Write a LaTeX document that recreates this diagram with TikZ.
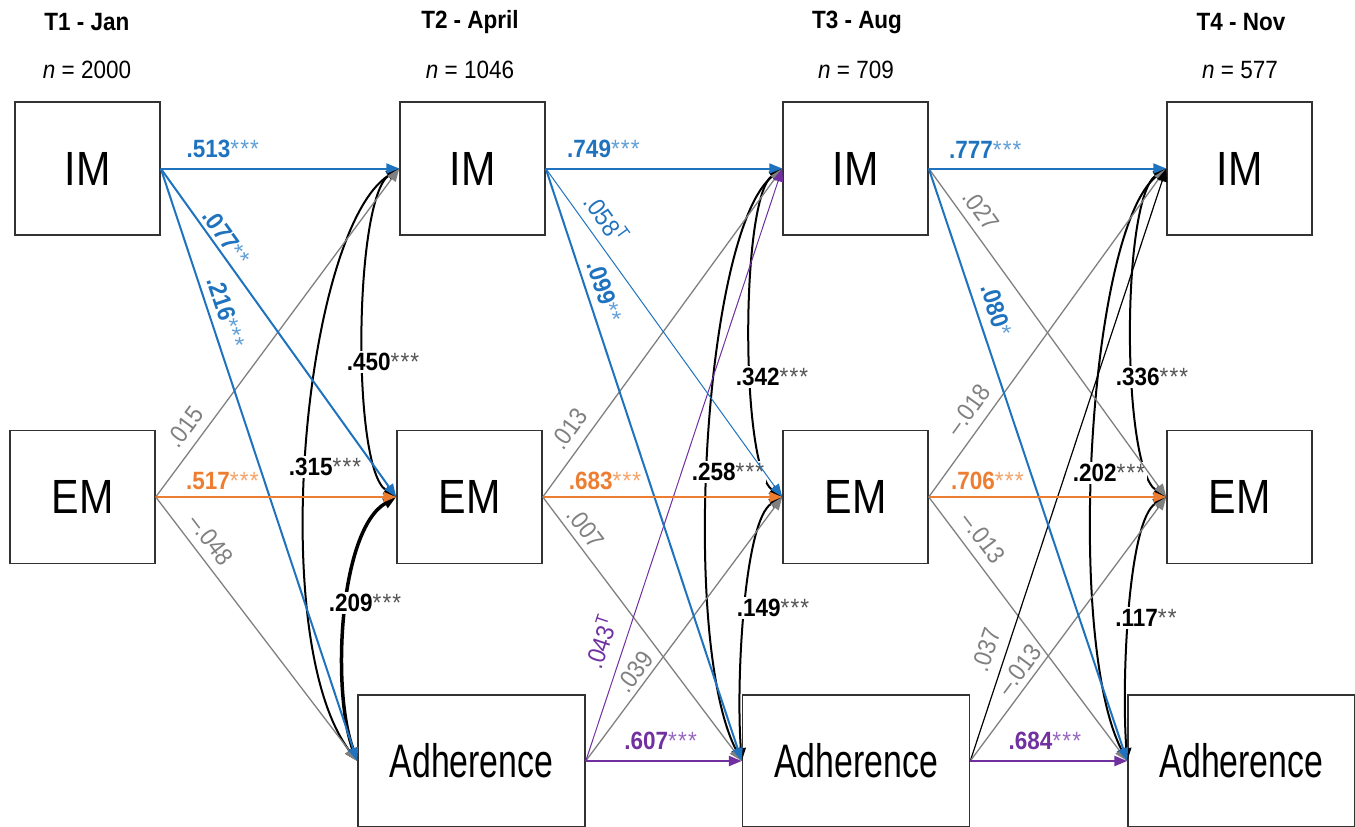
\documentclass[tikz,border=0pt]{standalone}
\usepackage{fontspec}
\setmainfont{Liberation Sans}[FakeStretch=0.9]
\newfontfamily\boxfont{Liberation Sans}[FakeStretch=0.72]
\newfontfamily\boxfontw{Liberation Sans}[FakeStretch=0.86]
\usetikzlibrary{arrows.meta}
\definecolor{cblue}{RGB}{31,115,190}
\definecolor{cblueL}{RGB}{95,158,215}
\definecolor{corange}{RGB}{237,125,49}
\definecolor{corangeL}{RGB}{244,162,105}
\definecolor{cpurple}{RGB}{112,48,160}
\definecolor{cpurpleL}{RGB}{150,105,192}
\definecolor{cgray}{RGB}{128,128,128}
\definecolor{cstar}{RGB}{85,85,85}
\definecolor{cbox}{RGB}{50,50,50}
\newcommand{\mycoef}[3]{{\bfseries #1}{\color{#3}#2}}
\newcommand{\stt}{*\kern1.2pt*\kern1.2pt*}
\newcommand{\stw}{*\kern1.2pt*}
\begin{document}
\begin{tikzpicture}[x=1pt,y=-1pt,
  box/.style={draw=cbox, line width=1.5pt, minimum width=145pt, minimum height=133pt, inner sep=0pt, fill=white, font=\boxfontw\fontsize{48}{50}\selectfont},
  wbox/.style={box, minimum width=227pt, minimum height=132pt, font=\boxfont\fontsize{47}{50}\selectfont},
  hdr/.style={font=\bfseries\fontsize{25}{28}\selectfont},
  nlab/.style={font=\fontsize{25}{28}\selectfont},
  tipstyle/.style={-{Triangle[length=13pt,width=10pt]}},
  pblue/.style={draw=cblue, line width=2pt, tipstyle},
  pbluethin/.style={draw=cblue, line width=1pt, tipstyle},
  porange/.style={draw=corange, line width=2.5pt, tipstyle},
  ppurple/.style={draw=cpurple, line width=2.5pt, tipstyle},
  ppurplethin/.style={draw=cpurple, line width=1pt, tipstyle},
  pgray/.style={draw=cgray, line width=1.3pt, tipstyle},
  pblack/.style={draw=black, line width=1.2pt, tipstyle},
  cov/.style={draw=black, line width=2pt, {Triangle[length=13pt,width=10pt]}-{Triangle[length=13pt,width=10pt]}},
  covthick/.style={cov, line width=3.5pt},
  lbl/.style={font=\fontsize{25}{28}\selectfont, inner sep=1pt},
  glbl/.style={lbl, text=cgray},
  clbl/.style={lbl, fill=white, inner sep=2pt}
]
\useasboundingbox (0,0) rectangle (1355,827);

% headers
\node[hdr] (h1) at (87,22) {T1 - Jan};
\node[hdr] (h2) at (470,22) {T2 - April};
\node[hdr] (h3) at (857,22) {T3 - Aug};
\node[hdr] (h4) at (1241,22) {T4 - Nov};
\node[nlab] (n1) at (87,70) {\textit{n} = 2000};
\node[nlab] (n2) at (470,70) {\textit{n} = 1046};
\node[nlab] (n3) at (856,70) {\textit{n} = 709};
\node[nlab] (n4) at (1240,70) {\textit{n} = 577};

% boxes
\node[box] (IM1) at (87.5,168.5) {IM};
\node[box] (EM1) at (82.5,497) {EM};
\node[box] (IM2) at (472.5,168.5) {IM};
\node[box] (EM2) at (469.5,497) {EM};
\node[wbox] (A2) at (471.5,761) {Adherence};
\node[box] (IM3) at (855.5,168.5) {IM};
\node[box] (EM3) at (855.5,497) {EM};
\node[wbox] (A3) at (856,761) {Adherence};
\node[box] (IM4) at (1239.5,168.5) {IM};
\node[box] (EM4) at (1239.5,497) {EM};
\node[wbox] (A4) at (1241.5,761) {Adherence};

% covariance curves
\draw[cov] (IM2.west) .. controls +(-45,30) and +(-45,-30) .. (EM2.west);
\draw[cov] (IM2.west) .. controls +(-95,61.5) and +(-92,-121) .. (A2.west);
\draw[covthick] (EM2.west) .. controls +(-57,33) and +(-26,-71) .. (A2.west);
\draw[cov] (IM3.west) .. controls +(-42,30) and +(-42,-30) .. (EM3.west);
\draw[cov] (IM3.west) .. controls +(-78,61.5) and +(-62,-121) .. (A3.west);
\draw[cov] (EM3.west) .. controls +(-38,23) and +(-6,-81) .. (A3.west);
\draw[cov] (IM4.west) .. controls +(-45,30) and +(-45,-30) .. (EM4.west);
\draw[cov] (IM4.west) .. controls +(-78,61.5) and +(-62,-121) .. (A4.west);
\draw[cov] (EM4.west) .. controls +(-38,23) and +(-6,-81) .. (A4.west);

\node[clbl] (c450) at (383,362) {\mycoef{.450}{\stt}{cstar}};
\node[clbl] (c315) at (325,467) {\mycoef{.315}{\stt}{cstar}};
\node[clbl] (c209) at (365,603) {\mycoef{.209}{\stt}{cstar}};
\node[clbl] (c342) at (772,377) {\mycoef{.342}{\stt}{cstar}};
\node[clbl] (c258) at (728,472) {\mycoef{.258}{\stt}{cstar}};
\node[clbl] (c149) at (773,608) {\mycoef{.149}{\stt}{cstar}};
\node[clbl] (c336) at (1152,377) {\mycoef{.336}{\stt}{cstar}};
\node[clbl] (c202) at (1109,473) {\mycoef{.202}{\stt}{cstar}};
\node[clbl] (c117) at (1146,618) {\mycoef{.117}{\stw}{cstar}};

% T1 -> T2
\draw[pgray] (EM1.east) -- node[glbl, sloped, pos=0.181, above=8pt]{.015} (IM2.west);
\draw[pgray] (EM1.east) -- node[glbl, sloped, pos=0.203, above=7.5pt]{–.048} (A2.west);
\draw[pblue] (IM1.east) -- node[lbl, pos=0.26, above=8.5pt, text=cblue]{\mycoef{.513}{\stt}{cblueL}} (IM2.west);
\draw[pblue] (IM1.east) -- node[lbl, sloped, pos=0.233, above=2.5pt, text=cblue]{\mycoef{.077}{\stw}{cblueL}} (EM2.west);
\draw[pblue] (IM1.east) -- node[lbl, sloped, pos=0.252, above=6pt, text=cblue]{\mycoef{.216}{\stt}{cblueL}} (A2.west);
\draw[porange] (EM1.east) -- node[lbl, pos=0.277, above=5pt, text=corange]{\mycoef{.517}{\stt}{corangeL}} (EM2.west);

% T2 -> T3
\draw[pgray] (EM2.east) -- node[glbl, sloped, pos=0.174, above=8.5pt]{.013} (IM3.west);
\draw[pgray] (EM2.east) -- node[glbl, sloped, pos=0.153, above=5.5pt]{.007} (A3.west);
\draw[pgray] (A2.east) -- node[glbl, sloped, pos=0.307, above=3.5pt]{.039} (EM3.west);
\draw[ppurplethin] (A2.east) -- node[lbl, sloped, pos=0.188, above=12pt, text=cpurple]{.043\textsuperscript{T}} (IM3.west);
\draw[pblue] (IM2.east) -- node[lbl, pos=0.244, above=8.5pt, text=cblue]{\mycoef{.749}{\stt}{cblueL}} (IM3.west);
\draw[pbluethin] (IM2.east) -- node[lbl, sloped, pos=0.188, above=8pt, text=cblue]{.058\textsuperscript{T}} (EM3.west);
\draw[pblue] (IM2.east) -- node[lbl, sloped, pos=0.217, above=6pt, text=cblue]{\mycoef{.099}{\stw}{cblueL}} (A3.west);
\draw[porange] (EM2.east) -- node[lbl, pos=0.26, above=5pt, text=corange]{\mycoef{.683}{\stt}{corangeL}} (EM3.west);
\draw[ppurple] (A2.east) -- node[lbl, pos=0.48, above=9pt, text=cpurple]{\mycoef{.607}{\stt}{cpurpleL}} (A3.west);

% T3 -> T4
\draw[pgray] (IM3.east) -- node[glbl, sloped, pos=0.158, above=7.5pt]{.027} (EM4.west);
\draw[pgray] (EM3.east) -- node[glbl, sloped, pos=0.231, above=8.5pt]{–.018} (IM4.west);
\draw[pgray] (EM3.east) -- node[glbl, sloped, pos=0.197, above=8.5pt]{–.013} (A4.west);
\draw[pblack] (A3.east) -- node[glbl, sloped, pos=0.177, above=9pt]{.037} (IM4.west);
\draw[pgray] (A3.east) -- node[glbl, sloped, pos=0.312, above=4.5pt]{–.013} (EM4.west);
\draw[pblue] (IM3.east) -- node[lbl, pos=0.238, above=8.5pt, text=cblue]{\mycoef{.777}{\stt}{cblueL}} (IM4.west);
\draw[pblue] (IM3.east) -- node[lbl, sloped, pos=0.249, above=8.5pt, text=cblue]{\mycoef{.080}{*}{cblueL}} (A4.west);
\draw[porange] (EM3.east) -- node[lbl, pos=0.247, above=5pt, text=corange]{\mycoef{.706}{\stt}{corangeL}} (EM4.west);
\draw[ppurple] (A3.east) -- node[lbl, pos=0.475, above=9pt, text=cpurple]{\mycoef{.684}{\stt}{cpurpleL}} (A4.west);
\end{tikzpicture}
\end{document}
